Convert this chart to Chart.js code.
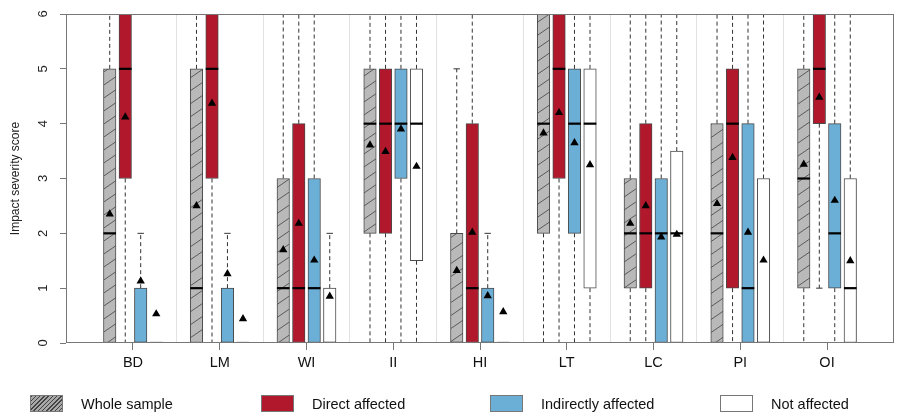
<!DOCTYPE html>
<html><head><meta charset="utf-8">
<script src="https://cdn.jsdelivr.net/npm/chart.js@4.4.0/dist/chart.umd.min.js"></script>
<style>
html,body{margin:0;padding:0;background:#fff;}
#wrap{position:relative;width:906px;height:420px;}
#legend{position:absolute;left:0;top:0;width:906px;height:420px;pointer-events:none;font-family:'Liberation Sans',Arial,sans-serif;font-size:14.5px;color:#111;}
.sw{position:absolute;top:395px;width:33px;height:17px;box-sizing:border-box;border:1px solid #777;}
.lt{position:absolute;top:395px;line-height:18px;white-space:nowrap;}
</style></head><body>
<div id="wrap"><canvas id="c" width="906" height="420"></canvas><div id="legend"></div></div>
<script>
// ---- data ----
const categories = ['BD','LM','WI','II','HI','LT','LC','PI','OI'];
const groupNames = ['Whole sample','Direct affected','Indirectly affected','Not affected'];
const yTicks = [0,1,2,3,4,5,6];

const wholeMin    = [0,0,0,0,0,0,0,0,0];
const wholeQ1     = [0,0,0,2,0,2,1,0,1];
const wholeMedian = [2,1,1,4,0,4,2,2,3];
const wholeQ3     = [5,5,3,5,2,6,3,4,5];
const wholeMax    = [6,6,6,6,5,6,6,6,6];
const wholeMean   = [2.35,2.50,1.70,3.61,1.32,3.83,2.18,2.54,3.26];

const directMin    = [0,0,0,0,0,0,0,0,1];
const directQ1     = [3,3,0,2,0,3,1,1,4];
const directMedian = [5,5,1,4,1,5,2,4,5];
const directQ3     = [6,6,4,5,4,6,4,5,6];
const directMax    = [6,6,6,6,6,6,6,6,6];
const directMean   = [4.12,4.37,2.18,3.49,2.02,4.20,2.50,3.38,4.48];

const indirectMin    = [0,0,0,0,0,0,0,0,0];
const indirectQ1     = [0,0,0,3,0,2,0,0,1];
const indirectMedian = [0,0,1,4,0,4,2,1,2];
const indirectQ3     = [1,1,3,5,1,5,3,4,4];
const indirectMax    = [2,2,6,6,2,6,6,6,6];
const indirectMean   = [1.13,1.26,1.51,3.90,0.86,3.65,1.93,2.02,2.60];

const notMin    = [0,0,0,0,0,0,0,0,0];
const notQ1     = [0,0,0,1.5,0,1,0,0,0];
const notMedian = [0,0,0,4,0,4,2,0,1];
const notQ3     = [0,0,1,5,0,5,3.5,3,3];
const notMax    = [0,0,2,6,0,6,6,6,6];
const notMean   = [0.53,0.44,0.85,3.22,0.57,3.25,1.98,1.51,1.50];

// ---- styling ----
const FONT = "'Liberation Sans', Arial, sans-serif";
const offsets = [-0.268, -0.089, 0.089, 0.268];
function makeHatch(){
  const w=19,h=13;
  const c=document.createElement('canvas'); c.width=w; c.height=h;
  const x=c.getContext('2d');
  x.fillStyle='#b9b9b9'; x.fillRect(0,0,w,h);
  x.strokeStyle='#5a5a5a'; x.lineWidth=1;
  for(let k=0;k<=2;k++){
    x.beginPath();
    x.moveTo(-2, k*h + (h/w)*2);
    x.lineTo(w+2, k*h - h - (h/w)*2);
    x.stroke();
  }
  return x.createPattern(c,'repeat');
}
const fills = [makeHatch(), '#b2182b', '#6baed6', '#ffffff'];
const legendFills = ['repeating-linear-gradient(135deg,#444 0 1px,#a8a8a8 1px 3px)','#b2182b','#6baed6','#ffffff'];

const groups = [
  {lo:wholeMin, q1:wholeQ1, med:wholeMedian, q3:wholeQ3, hi:wholeMax, mean:wholeMean},
  {lo:directMin, q1:directQ1, med:directMedian, q3:directQ3, hi:directMax, mean:directMean},
  {lo:indirectMin, q1:indirectQ1, med:indirectMedian, q3:indirectQ3, hi:indirectMax, mean:indirectMean},
  {lo:notMin, q1:notQ1, med:notMedian, q3:notQ3, hi:notMax, mean:notMean}
];

const datasets = [];
groups.forEach((g, gi) => {
  const xs = categories.map((_, i) => i + 1 + offsets[gi]);
  const wData = [];
  xs.forEach((x,i)=>{
    wData.push({x,y:g.q3[i]},{x,y:g.hi[i]},{x,y:null},{x,y:g.q1[i]},{x,y:g.lo[i]},{x,y:null});
  });
  datasets.push({type:'line', data:wData, borderColor:'#333', borderWidth:1, borderDash:[4,3],
    pointRadius:0, spanGaps:false, fill:false, order:5});
  const cData = [];
  xs.forEach((x,i)=>{
    if (g.hi[i] > g.q3[i]) cData.push({x,y:g.hi[i]});
    if (g.lo[i] < g.q1[i]) cData.push({x,y:g.lo[i]});
  });
  datasets.push({type:'scatter', data:cData, pointStyle:'line', pointRadius:3.2,
    pointBorderColor:'#333', pointBorderWidth:1, order:4});
  datasets.push({type:'bar', label:groupNames[gi], data: xs.map((x,i)=>({x, y:[g.q1[i], g.q3[i]]})),
    backgroundColor: fills[gi], borderColor:'#4a4a4a', borderWidth:1, borderSkipped:false,
    grouped:false, maxBarThickness:12.5, categoryPercentage:1, barPercentage:1, order:3});
  datasets.push({type:'scatter', data: xs.map((x,i)=>({x,y:g.med[i]})), pointStyle:'line',
    pointRadius:6.3, pointBorderColor:'#000', pointBorderWidth:2.2, order:2});
  datasets.push({type:'scatter', data: xs.map((x,i)=>({x,y:g.mean[i]})), pointStyle:'triangle',
    pointRadius:4.8, pointBackgroundColor:'#000', pointBorderColor:'#000', pointBorderWidth:0, order:1});
});

const xTickVals = [];
categories.forEach((_, i) => { xTickVals.push(i+1); if (i < categories.length-1) xTickVals.push(i+1.5); });

const framePlugin = {
  id:'frame',
  afterDraw(chart){
    const {ctx, chartArea:a} = chart;
    ctx.save();
    ctx.strokeStyle='#777'; ctx.lineWidth=1;
    ctx.strokeRect(Math.round(a.left)+0.5, Math.round(a.top)+0.5, Math.round(a.right-a.left)-1, Math.round(a.bottom-a.top)-1);
    ctx.restore();
  }
};

new Chart(document.getElementById('c'), {
  type:'bar',
  data:{datasets},
  options:{
    responsive:false, animation:false, events:[], devicePixelRatio:1,
    layout:{padding:{top:14,right:12,left:0,bottom:0}},
    plugins:{legend:{display:false}, tooltip:{enabled:false}},
    scales:{
      x:{
        type:'linear', min:0.228, max:9.772, offset:false,
        afterBuildTicks:(s)=>{ s.ticks = xTickVals.map(v=>({value:v})); },
        afterFit:(s)=>{ s.height = 77; s.paddingLeft = 0; s.paddingRight = 0; },
        grid:{offset:false, drawOnChartArea:true, drawTicks:true, tickLength:7,
          color:(c)=> Number.isInteger(c.tick && c.tick.value) ? 'rgba(0,0,0,0)' : '#e2e2e2',
          tickColor:(c)=> Number.isInteger(c.tick && c.tick.value) ? '#777' : 'rgba(0,0,0,0)'},
        border:{display:false},
        ticks:{autoSkip:false, maxRotation:0, minRotation:0, padding:4.5, color:'#111',
          font:{family:FONT, size:14.5},
          callback:(v)=> Number.isInteger(v) ? categories[v-1] : ''}
      },
      y:{
        min:0, max:6,
        afterBuildTicks:(s)=>{ s.ticks = yTicks.map(v=>({value:v})); },
        afterFit:(s)=>{ s.width = 66; s.paddingTop = 0; s.paddingBottom = 0; },
        grid:{drawOnChartArea:false, drawTicks:true, tickLength:6, tickColor:'#777'},
        border:{display:false},
        ticks:{minRotation:90, maxRotation:90, crossAlign:'center', padding:13, color:'#222',
          font:{family:FONT, size:13}},
        title:{display:true, text:'Impact severity score', color:'#222', padding:{top:8,bottom:0},
          font:{family:FONT, size:12}}
      }
    }
  },
  plugins:[framePlugin]
});

// HTML legend
const legendX = [30, 261, 490, 720];
const lg = document.getElementById('legend');
groupNames.forEach((n, i) => {
  const sw = document.createElement('div'); sw.className='sw';
  sw.style.left = legendX[i]+'px'; sw.style.background = legendFills[i];
  const t = document.createElement('div'); t.className='lt';
  t.style.left = (legendX[i]+51)+'px'; t.textContent = n;
  lg.appendChild(sw); lg.appendChild(t);
});
</script>
</body></html>
